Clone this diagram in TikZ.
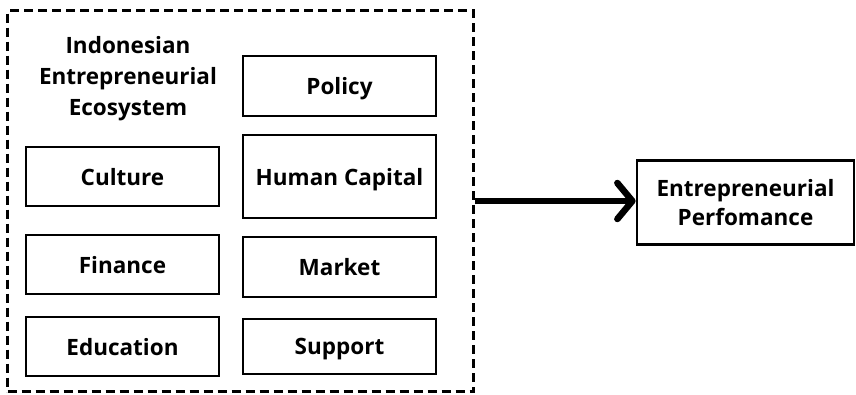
\documentclass[tikz,border=0pt]{standalone}
\usepackage{fontspec}
\setmainfont{Open Sans}
\usetikzlibrary{arrows.meta}

\begin{document}
\begin{tikzpicture}[x=1pt,y=-1pt,
  factor/.style={draw,line width=2.8pt,minimum width=193pt,inner sep=0pt,text depth=0pt,font=\bfseries\fontsize{22.5}{27}\selectfont},
  flow/.style={line width=6.5pt,-{Straight Barb[round,length=15pt,width=36pt]}}]
  \useasboundingbox (0,0) rectangle (856,394);
  % ecosystem frame and its title
  \node [draw,line width=2.2pt,dash pattern=on 9pt off 5pt,minimum width=466pt,minimum height=381pt] (eco) at (240.5,201) {};
  \node [align=center,font=\bfseries\fontsize{22.5}{31}\selectfont] (title) at (128,78.5) {Indonesian\\Entrepreneurial\\Ecosystem};
  % left column
  \node [factor,minimum height=59pt] (culture) at (122.5,176.5) {Culture};
  \node [factor,minimum height=59pt] (finance) at (122.5,264.5) {Finance};
  \node [factor,minimum height=59pt] (education) at (122.5,346.5) {Education};
  % right column
  \node [factor,minimum height=60pt] (policy) at (339.5,86) {Policy};
  \node [factor,minimum height=83pt] (human) at (339.5,176.5) {Human Capital};
  \node [factor,minimum height=60pt] (market) at (339.5,267) {Market};
  \node [factor,minimum height=55pt] (support) at (339.5,346.5) {Support};
  % outcome
  \node [factor,minimum width=217pt,minimum height=84pt,align=center,font=\bfseries\fontsize{22.5}{29}\selectfont] (perf) at (745.5,202.5) {Entrepreneurial\\Perfomance};
  \draw [flow] (eco.east) -- (eco.east -| perf.west);
\end{tikzpicture}
\end{document}
